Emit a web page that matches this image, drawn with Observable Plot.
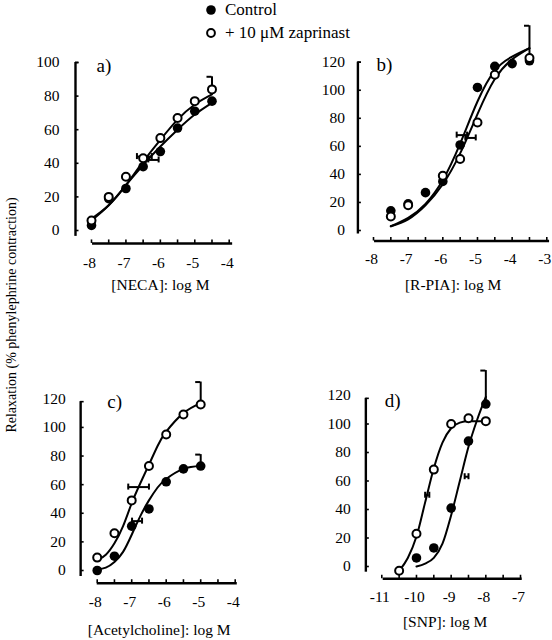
<!DOCTYPE html>
<html>
<head>
<meta charset="utf-8">
<script src="https://cdn.jsdelivr.net/npm/d3@7"></script>
<script src="https://cdn.jsdelivr.net/npm/@observablehq/plot@0.6"></script>
<style>
  html, body { margin: 0; padding: 0; background: #fff; }
  #fig { position: relative; width: 552px; height: 640px; overflow: hidden;
         font-family: "Liberation Serif", "Times New Roman", "DejaVu Serif", serif; color: #000; }
  .panel { position: absolute; }
  .legend-item { position: absolute; left: 206px; height: 20px; display: flex; align-items: center;
                 font-family: "Liberation Serif", "Times New Roman", serif; font-size: 17px; white-space: nowrap; }
  .legend-item svg { margin-right: 9px; }
  #ylabel { position: absolute; left: 12px; top: 315px; transform: translate(-50%, -50%) rotate(-90deg);
            font-family: "Liberation Serif", "Times New Roman", serif; font-size: 14px; white-space: nowrap; }
</style>
</head>
<body>
<div id="fig"></div>
<script>
// ---------------- Legend / labels ----------------
const seriesNames = ["Control", "+ 10 \u03bcM zaprinast"];
const yTitle = "Relaxation (% phenylephrine contraction)";
const serif = '"Liberation Serif", "Times New Roman", serif';

// ---------------- a) NECA ----------------
const necaDose = [-8, -7.5, -7, -6.5, -6, -5.5, -5, -4.5];
const necaControl = [3, 19, 25, 38, 47, 61, 71, 77];
const necaZaprinast = [6, 20, 32, 43, 55, 67, 77, 84];
const necaFitDose = [-8, -7.5, -7, -6.5, -6, -5.5, -5, -4.5];
const necaFitControl = [6, 15, 27, 39, 50, 60, 69, 76];
const necaFitZaprinast = [7, 15, 27, 41, 54, 66, 75, 81];
const necaSemDose = [-4.5], necaSemFrom = [84], necaSemTo = [91.5];
const necaEcY = [44, 42], necaEcLo = [-6.68, -6.35], necaEcHi = [-6.25, -6.05];
const necaXTicks = [-8, -7.5, -7, -6.5, -6, -5.5, -5, -4.5, -4];
const necaXLabels = [-8, -7, -6, -5, -4];
const necaYLabels = [0, 20, 40, 60, 80, 100];

// ---------------- b) R-PIA ----------------
const rpiaControlDose = [-7.5, -7, -6.5, -6, -5.5, -5, -4.5, -4, -3.5];
const rpiaControl = [14, 19, 27, 35, 61, 102, 117, 119, 121];
const rpiaZaprinastDose = [-7.5, -7, -6, -5.5, -5, -4.5, -3.5];
const rpiaZaprinast = [10, 18, 39, 51, 77, 111, 123];
const rpiaFitDose = [-7.5, -7, -6.5, -6, -5.5, -5, -4.5, -4, -3.5];
const rpiaFitControl = [3, 9, 19, 36, 62, 92, 114, 124, 130];
const rpiaFitZaprinast = [3, 8, 18, 33, 55, 83, 108, 122, 130];
const rpiaSemDose = [-3.5], rpiaSemFrom = [123], rpiaSemTo = [146];
const rpiaEcY = [68, 66], rpiaEcLo = [-5.6, -5.35], rpiaEcHi = [-5.3, -5.05];
const rpiaXTicks = [-8, -7.5, -7, -6.5, -6, -5.5, -5, -4.5, -4, -3.5, -3];
const rpiaXLabels = [-8, -7, -6, -5, -4, -3];
const rpiaYLabels = [0, 20, 40, 60, 80, 100, 120];

// ---------------- c) Acetylcholine ----------------
const achDose = [-8, -7.5, -7, -6.5, -6, -5.5, -5];
const achControl = [0, 10, 31, 43, 62, 71, 73];
const achZaprinast = [9, 26, 49, 73, 95, 109, 116];
const achFitDose = [-8, -7.75, -7.5, -7.25, -7, -6.75, -6.5, -6.25, -6, -5.5, -5];
const achFitControl = [1, 2, 6, 13, 25, 38, 49, 58, 64, 71, 73];
const achFitZaprinast = [7, 11, 19, 31, 47, 61, 74, 87, 97, 110, 117];
const achSemDose = [-5, -5], achSemFrom = [116, 73], achSemTo = [131.7, 81];
const achEcY = [58.3, 34.5], achEcLo = [-7.1, -6.99], achEcHi = [-6.5, -6.7];
const achXTicks = [-8, -7.5, -7, -6.5, -6, -5.5, -5, -4.5, -4];
const achXLabels = [-8, -7, -6, -5, -4];
const achYLabels = [0, 20, 40, 60, 80, 100, 120];

// ---------------- d) SNP ----------------
const snpControlDose = [-10, -9.5, -9, -8.5, -8];
const snpControl = [6, 13, 41, 88, 114];
const snpZaprinastDose = [-10.5, -10, -9.5, -9, -8.5, -8];
const snpZaprinast = [-3, 23, 68, 100, 104, 102];
const snpFitControlDose = [-10, -9.75, -9.5, -9.25, -9, -8.75, -8.5, -8.25, -8];
const snpFitControl = [0, 2, 6, 16, 36, 60, 84, 103, 119];
const snpFitZaprinastDose = [-10.5, -10.25, -10, -9.75, -9.5, -9.25, -9, -8.75, -8.5, -8];
const snpFitZaprinast = [-3, 6, 21, 45, 69, 87, 97, 101, 102, 102];
const snpSemDose = [-8], snpSemFrom = [114], snpSemTo = [137.5];
const snpEcY = [50, 63], snpEcLo = [-9.75, -8.61], snpEcHi = [-9.63, -8.5];
const snpXTicks = [-11, -10.5, -10, -9.5, -9, -8.5, -8, -7.5, -7];
const snpXLabels = [-11, -10, -9, -8, -7];
const snpYLabels = [0, 20, 40, 60, 80, 100, 120];

// ---------------- helpers ----------------
const pts = (xs, ys) => xs.map((x, i) => ({x, y: ys[i]}));
const sems = (xs, a, b) => xs.map((x, i) => ({x, y1: a[i], y2: b[i]}));
const ecs = (ys, lo, hi) => ys.map((y, i) => ({y, x1: lo[i], x2: hi[i]}));

const panels = [
  {name: "a)", title: "[NECA]: log M", left: 0, top: 0, width: 276, height: 300,
   mt: 62, mr: 47.3, mb: 70, ml: 91, xDomain: [-8, -4], yDomain: [0, 100],
   yAxisX: -8.465, yAxisLo: -3.5, yAxisHi: 100, xAxisY: -7.7, xAxisLo: -7.97, xAxisHi: -3.9,
   yGap: 16, xLabDy: 20, nameDx: 5, nameDy: 3, titleDx: 0, titleDy: 55, curve: "natural",
   control: pts(necaDose, necaControl), zap: pts(necaDose, necaZaprinast),
   fitC: pts(necaFitDose, necaFitControl), fitZ: pts(necaFitDose, necaFitZaprinast),
   sem: sems(necaSemDose, necaSemFrom, necaSemTo), ec: ecs(necaEcY, necaEcLo, necaEcHi),
   xTicks: necaXTicks, xLabels: necaXLabels, yLabels: necaYLabels},
  {name: "b)", title: "[R-PIA]: log M", left: 276, top: 0, width: 276, height: 300,
   mt: 61.7, mr: 5.7, mb: 70, ml: 97, xDomain: [-8, -3], yDomain: [0, 120],
   yAxisX: -8.45, yAxisLo: -2.5, yAxisHi: 120, xAxisY: -7.5, xAxisLo: -7.97, xAxisHi: -2.92,
   yGap: 13, xLabDy: 18, nameDx: 3, nameDy: 3, titleDx: -7, titleDy: 55, curve: "natural",
   control: pts(rpiaControlDose, rpiaControl), zap: pts(rpiaZaprinastDose, rpiaZaprinast),
   fitC: pts(rpiaFitDose, rpiaFitControl), fitZ: pts(rpiaFitDose, rpiaFitZaprinast),
   sem: sems(rpiaSemDose, rpiaSemFrom, rpiaSemTo), ec: ecs(rpiaEcY, rpiaEcLo, rpiaEcHi),
   xTicks: rpiaXTicks, xLabels: rpiaXLabels, yLabels: rpiaYLabels},
  {name: "c)", title: "[Acetylcholine]: log M", left: 0, top: 300, width: 276, height: 340,
   mt: 98.3, mr: 41.3, mb: 70, ml: 96.7, xDomain: [-8, -4], yDomain: [0, 120],
   yAxisX: -8.48, yAxisLo: -4.2, yAxisHi: 118, xAxisY: -8.9, xAxisLo: -8, xAxisHi: -3.94,
   yGap: 15, xLabDy: 19, nameDx: 10, nameDy: 3, titleDx: -7, titleDy: 60, curve: "natural",
   control: pts(achDose, achControl), zap: pts(achDose, achZaprinast),
   fitC: pts(achFitDose, achFitControl), fitZ: pts(achFitDose, achFitZaprinast),
   sem: sems(achSemDose, achSemFrom, achSemTo), ec: ecs(achEcY, achEcLo, achEcHi),
   xTicks: achXTicks, xLabels: achXLabels, yLabels: achYLabels},
  {name: "d)", title: "[SNP]: log M", left: 276, top: 300, width: 276, height: 340,
   mt: 95, mr: 32, mb: 74, ml: 105.3, xDomain: [-11, -7], yDomain: [0, 120],
   yAxisX: -11.46, yAxisLo: -4, yAxisHi: 118, xAxisY: -8.6, xAxisLo: -10.96, xAxisHi: -6.95,
   yGap: 15, xLabDy: 18, nameDx: 3, nameDy: 5, titleDx: -6, titleDy: 56, curve: "monotone-x",
   control: pts(snpControlDose, snpControl), zap: pts(snpZaprinastDose, snpZaprinast),
   fitC: pts(snpFitControlDose, snpFitControl), fitZ: pts(snpFitZaprinastDose, snpFitZaprinast),
   sem: sems(snpSemDose, snpSemFrom, snpSemTo), ec: ecs(snpEcY, snpEcLo, snpEcHi),
   xTicks: snpXTicks, xLabels: snpXLabels, yLabels: snpYLabels}
];

const fig = document.getElementById("fig");

for (const p of panels) {
  const tickMarksY = p.yLabels.filter(t => t <= p.yAxisHi).concat([p.yAxisHi]);
  const chart = Plot.plot({
    width: p.width, height: p.height,
    marginTop: p.mt, marginRight: p.mr, marginBottom: p.mb, marginLeft: p.ml,
    x: {domain: p.xDomain, axis: null},
    y: {domain: p.yDomain, axis: null},
    style: {background: "transparent", overflow: "visible", color: "black",
            fontFamily: serif, fontSize: "15px"},
    marks: [
      // axis lines
      Plot.ruleX([p.yAxisX], {x: d => d, y1: () => p.yAxisLo, y2: () => p.yAxisHi, stroke: "black", strokeWidth: 2.4}),
      Plot.ruleY([p.xAxisY], {y: d => d, x1: () => p.xAxisLo, x2: () => p.xAxisHi, stroke: "black", strokeWidth: 2.4}),
      // tick marks (y: pointing right, x: pointing up)
      Plot.ruleY(tickMarksY, {y: d => d, x1: () => p.yAxisX, x2: () => p.yAxisX, insetRight: -3.5, stroke: "black", strokeWidth: 1.6}),
      Plot.ruleX(p.xTicks, {x: d => d, y1: () => p.xAxisY, y2: () => p.xAxisY, insetBottom: 3.5, stroke: "black", strokeWidth: 1.6}),
      // tick labels
      Plot.text(p.yLabels, {x: () => p.yAxisX, y: d => d, text: d => String(d), textAnchor: "end", dx: -p.yGap, fontSize: 15.5, fontFamily: serif}),
      Plot.text(p.xLabels, {x: d => d, y: () => p.xAxisY, text: d => String(d), dx: -2, dy: p.xLabDy, lineAnchor: "middle", fontSize: 15.5, fontFamily: serif}),
      // panel letter and x title
      Plot.text([p.name], {frameAnchor: "top-left", text: d => d, textAnchor: "start", lineAnchor: "middle", dx: p.nameDx, dy: p.nameDy, fontSize: 19, fontFamily: serif}),
      Plot.text([p.title], {frameAnchor: "bottom", text: d => d, lineAnchor: "middle", dx: p.titleDx, dy: p.titleDy, fontSize: 15.5, fontFamily: serif}),
      // fitted curves
      Plot.line(p.fitC, {x: "x", y: "y", curve: p.curve, stroke: "black", strokeWidth: 2}),
      Plot.line(p.fitZ, {x: "x", y: "y", curve: p.curve, stroke: "black", strokeWidth: 2}),
      // SEM bars (upward, cap to the left)
      Plot.ruleX(p.sem, {x: "x", y1: "y1", y2: "y2", stroke: "black", strokeWidth: 2}),
      Plot.ruleY(p.sem, {y: "y2", x1: "x", x2: "x", insetLeft: -5, stroke: "black", strokeWidth: 2}),
      // EC50 bars
      Plot.ruleY(p.ec, {y: "y", x1: "x1", x2: "x2", stroke: "black", strokeWidth: 2}),
      Plot.ruleX(p.ec, {x: "x1", y1: "y", y2: "y", insetTop: -3, insetBottom: -3, stroke: "black", strokeWidth: 2}),
      Plot.ruleX(p.ec, {x: "x2", y1: "y", y2: "y", insetTop: -3, insetBottom: -3, stroke: "black", strokeWidth: 2}),
      // data points
      Plot.dot(p.control, {x: "x", y: "y", r: 4.8, fill: "black", stroke: "none"}),
      Plot.dot(p.zap, {x: "x", y: "y", r: 4, fill: "white", stroke: "black", strokeWidth: 2})
    ]
  });
  const wrap = document.createElement("div");
  wrap.className = "panel";
  wrap.style.left = p.left + "px";
  wrap.style.top = p.top + "px";
  wrap.appendChild(chart);
  fig.appendChild(wrap);
}

// legend
const legendRows = [
  {label: seriesNames[0], top: 0, fill: "black", stroke: "none", r: 4.8},
  {label: seriesNames[1], top: 23, fill: "white", stroke: "black", r: 3.9}
];
for (const row of legendRows) {
  const item = document.createElement("div");
  item.className = "legend-item";
  item.style.top = row.top + "px";
  item.innerHTML = `<svg width="10" height="10" viewBox="-5 -5 10 10"><circle r="${row.r}" fill="${row.fill}" stroke="${row.stroke}" stroke-width="2"></circle></svg>`;
  const span = document.createElement("span");
  span.textContent = row.label;
  item.appendChild(span);
  fig.appendChild(item);
}

// shared y title
const yl = document.createElement("div");
yl.id = "ylabel";
yl.textContent = yTitle;
fig.appendChild(yl);
</script>
</body>
</html>
